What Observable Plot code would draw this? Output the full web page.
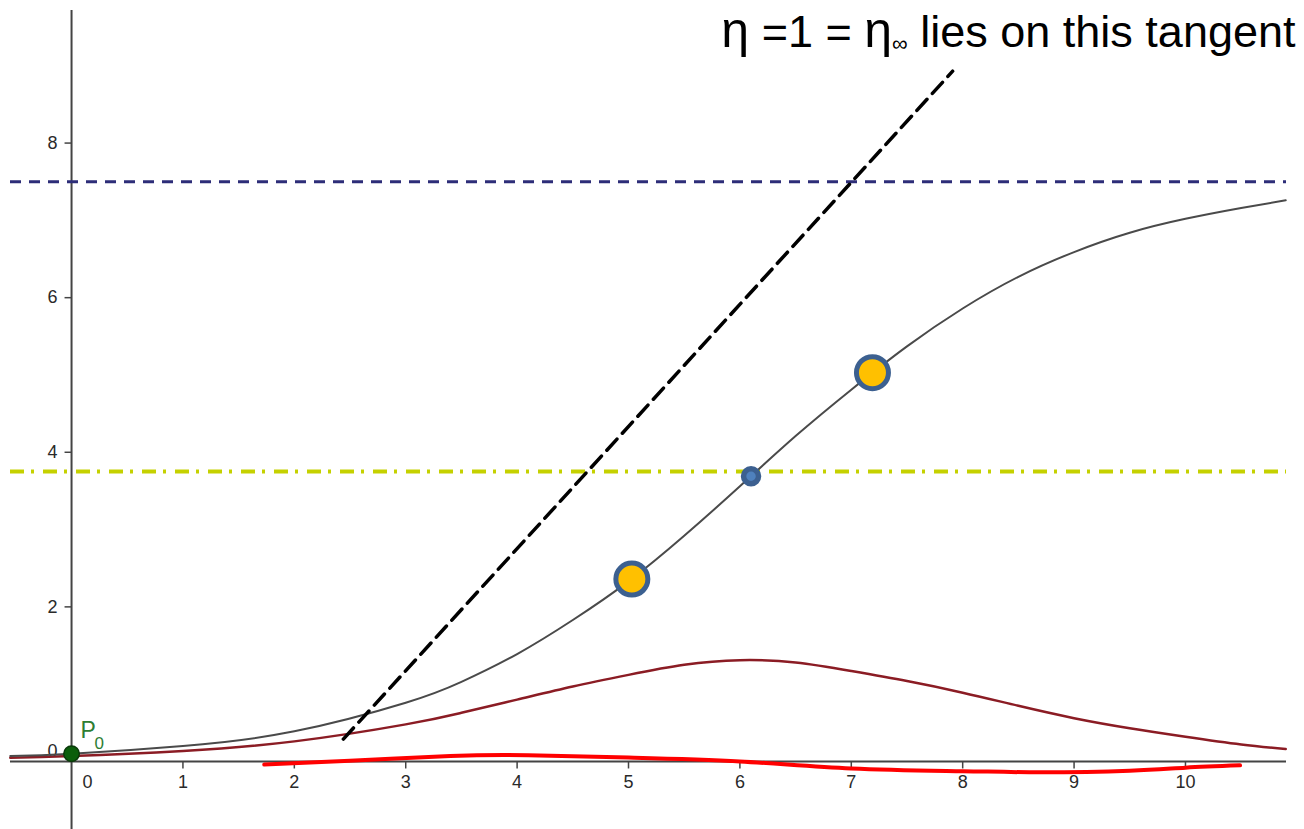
<!DOCTYPE html>
<html>
<head>
<meta charset="utf-8">
<script src="https://cdn.jsdelivr.net/npm/d3@7"></script>
<script src="https://cdn.jsdelivr.net/npm/@observablehq/plot@0.6"></script>
<style>
  html, body { margin: 0; padding: 0; background: #fff; overflow: hidden; }
  #chart svg { display: block; }
</style>
</head>
<body>
<div id="chart"></div>
<script>
// Logistic growth curve y(x) and its rate dy/dx
const growthX = [-0.55, 0, 1, 2, 3, 3.5, 4, 4.5, 5, 5.5, 6, 6.5, 7, 7.5, 8, 8.5, 9, 9.5, 10, 10.5, 10.9];
const growthY = [0.07, 0.10, 0.20, 0.39, 0.76, 1.03, 1.39, 1.83, 2.33, 2.92, 3.56, 4.21, 4.81, 5.37, 5.86, 6.27, 6.59, 6.84, 7.02, 7.16, 7.26];
const rateY   = [0.048, 0.070, 0.137, 0.26, 0.48, 0.63, 0.80, 0.97, 1.12, 1.25, 1.31, 1.28, 1.17, 1.04, 0.89, 0.72, 0.56, 0.43, 0.32, 0.22, 0.16];

// Acceleration term drawn just around the x axis
const accelX = [1.73, 2.5, 3.4, 4.1, 5.0, 6.0, 7.0, 8.0, 8.7, 9.5, 10.0, 10.49];
const accelY = [-0.04, 0.01, 0.07, 0.08, 0.05, 0.0, -0.09, -0.125, -0.14, -0.12, -0.08, -0.05];

// Carrying capacity and half of it
const capacity = [7.5];
const halfCapacity = [3.75];

// Straight line through the growth phase
const tangentX = [2.44, 7.91];
const tangentY = [0.29, 8.93];

// Marked points
const orangeX = [5.03, 7.19];
const orangeY = [2.36, 5.03];
const inflectionX = [6.1];
const inflectionY = [3.69];
const startX = [0];
const startY = [0.1];

// Axis ticks
const xTickValues = [1, 2, 3, 4, 5, 6, 7, 8, 9, 10];
const yTickValues = [2, 4, 6, 8];

// Headline pieces: eta, equation, eta, subscript infinity, remainder
const headlineParts = ["η", " =1 = ", "η", "∞", " lies on this tangent"];
const headline = headlineParts.join("");

const zip = (xs, ys) => xs.map((x, i) => ({x, y: ys[i]}));
const growth = zip(growthX, growthY);
const rate = zip(growthX, rateY);
const accel = zip(accelX, accelY);
const tangent = zip(tangentX, tangentY);
const orange = zip(orangeX, orangeY);
const inflection = zip(inflectionX, inflectionY);
const start = zip(startX, startY);

// Short tick strokes drawn as custom dot symbols
const tickDown = {draw(ctx, size) { const l = Math.sqrt(size / Math.PI); ctx.moveTo(0, 0); ctx.lineTo(0, l); }};
const tickLeft = {draw(ctx, size) { const l = Math.sqrt(size / Math.PI); ctx.moveTo(0, 0); ctx.lineTo(-l, 0); }};

const font = "'Liberation Sans', Arial, sans-serif";
const axisColor = "#444";
const labelColor = "#2a2a2a";
const tickFont = 18;

const chart = Plot.plot({
  width: 1304,
  height: 829,
  marginLeft: 10,
  marginRight: 18,
  marginTop: 10,
  marginBottom: 0,
  style: {fontFamily: font, background: "#fff", overflow: "visible"},
  x: {domain: [-0.548, 10.907], axis: null},
  y: {domain: [-0.880, 9.715], axis: null},
  marks: [
    // axes through the origin
    Plot.ruleY([0], {stroke: axisColor, strokeWidth: 2}),
    Plot.ruleX([0], {stroke: axisColor, strokeWidth: 2}),
    Plot.dot(xTickValues, {x: d => d, y: 0, symbol: tickDown, r: 7, stroke: axisColor, strokeWidth: 1.5, fill: "none"}),
    Plot.dot(yTickValues, {x: 0, y: d => d, symbol: tickLeft, r: 7, stroke: axisColor, strokeWidth: 1.5, fill: "none"}),
    Plot.text(xTickValues, {x: d => d, y: 0, dy: 21, text: d => String(d), fontSize: tickFont, fill: labelColor}),
    Plot.text(yTickValues, {x: 0, y: d => d, dx: -14, textAnchor: "end", text: d => String(d), fontSize: tickFont, fill: labelColor}),
    Plot.text([0], {x: 0, y: 0, dx: 16, dy: 21, text: d => String(d), fontSize: tickFont, fill: labelColor}),
    Plot.text([0], {x: 0, y: 0, dx: -14, dy: -10, textAnchor: "end", text: d => String(d), fontSize: tickFont, fill: labelColor}),

    // horizontal reference levels
    Plot.ruleY(capacity, {y: d => d, stroke: "#2d2d78", strokeWidth: 3, strokeDasharray: "11,8"}),
    Plot.ruleY(halfCapacity, {y: d => d, stroke: "#c5d100", strokeWidth: 4, strokeDasharray: "14,7,3,9"}),

    // curves
    Plot.line(rate, {x: "x", y: "y", curve: "natural", stroke: "#8b1c24", strokeWidth: 2.5}),
    Plot.line(growth, {x: "x", y: "y", curve: "natural", stroke: "#4a4a4a", strokeWidth: 2}),
    Plot.line(accel, {x: "x", y: "y", curve: "natural", stroke: "#ff0000", strokeWidth: 4}),
    Plot.line(tangent, {x: "x", y: "y", stroke: "#000", strokeWidth: 3.5, strokeDasharray: "15,8"}),

    // points
    Plot.dot(orange, {x: "x", y: "y", r: 16, fill: "#ffc000", stroke: "#3c6090", strokeWidth: 5}),
    Plot.dot(inflection, {x: "x", y: "y", r: 7.5, fill: "#4f81bd", stroke: "#3c6090", strokeWidth: 5.5}),
    Plot.dot(start, {x: "x", y: "y", r: 7.75, fill: "#0b5e0b", stroke: "#0a3a0a", strokeWidth: 1.5}),
    Plot.text(start, {x: "x", y: "y", dx: 9, dy: -23, textAnchor: "start", text: () => "P", fontSize: 23, fill: "#2e7d32"}),
    Plot.text(start, {x: "x", y: "y", dx: 23, dy: -10, textAnchor: "start", text: () => "0", fontSize: 17, fill: "#2e7d32"}),

    // headline
    Plot.text([headline], {frameAnchor: "top-right", text: d => d, textAnchor: "end", lineAnchor: "top", dx: 9, dy: 5, fontSize: 45, fill: "#000"})
  ]
});

// Rebuild the headline with enlarged eta glyphs and a subscript infinity
d3.select(chart).selectAll("text")
  .filter(function() { return this.textContent === headline; })
  .each(function() {
    const t = d3.select(this);
    t.text(null);
    headlineParts.forEach((part, i) => {
      const span = t.append("tspan").text(part);
      if (part === "η") span.attr("font-size", 50);
      if (part === "∞") span.attr("font-size", 22).attr("dy", 4);
      if (i > 0 && headlineParts[i - 1] === "∞") span.attr("dy", -4);
    });
  });

document.getElementById("chart").append(chart);
</script>
</body>
</html>
